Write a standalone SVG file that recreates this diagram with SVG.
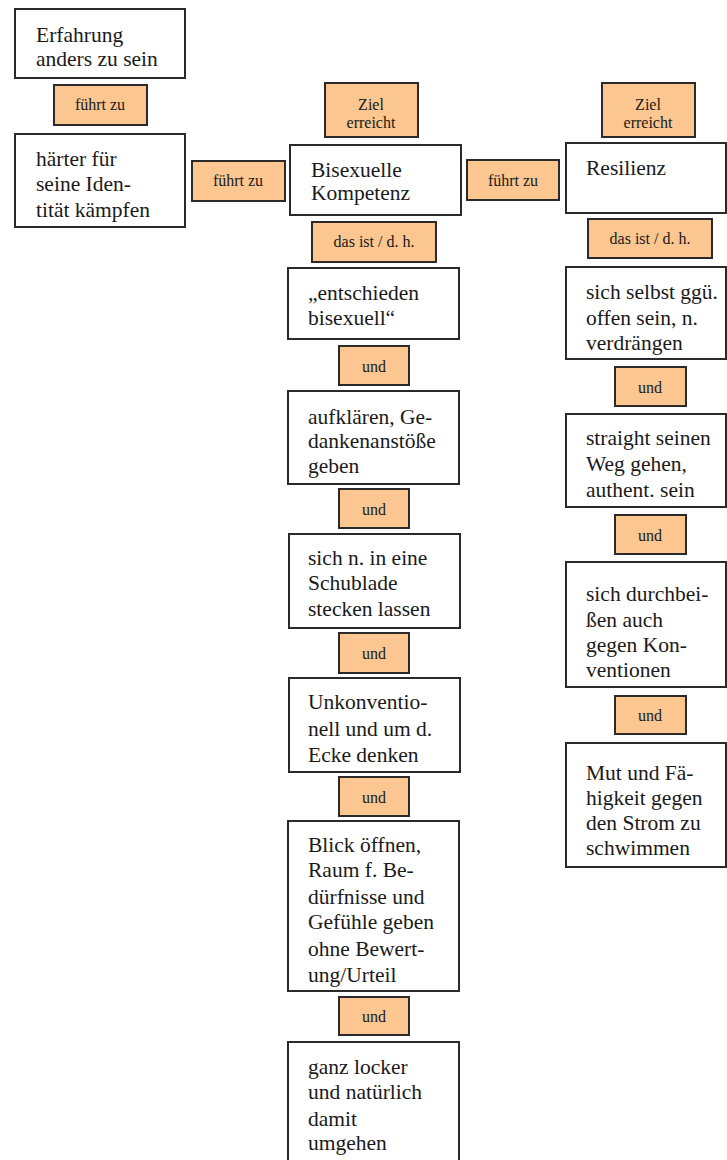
<svg xmlns="http://www.w3.org/2000/svg" width="727" height="1160" viewBox="0 0 727 1160">
<style>
.b{fill:#fff;stroke:#2a2a2a;stroke-width:2}
.l{fill:#fbc68f;stroke:#2a2a2a;stroke-width:2}
.t{font-family:"Liberation Serif",serif;font-size:21.5px;fill:#1a1a1a}
.s{font-family:"Liberation Serif",serif;font-size:16px;fill:#1a1a1a;text-anchor:middle}
</style>
<rect width="727" height="1160" fill="#fff"/>
<g id="connectors"></g>
<g id="n1"><rect class="b" x="15" y="9" width="170" height="69"/><text class="t" x="36"><tspan x="36" y="42">Erfahrung</tspan><tspan x="36" y="66">anders zu sein</tspan></text></g>
<g id="l1"><rect class="l" x="54" y="85" width="93" height="40"/><text class="s" x="100" y="110">führt zu</text></g>
<g id="n2"><rect class="b" x="15" y="134" width="170" height="93"/><text class="t"><tspan x="36" y="166">härter für</tspan><tspan x="36" y="191">seine Iden-</tspan><tspan x="36" y="217">tität kämpfen</tspan></text></g>
<g id="l2"><rect class="l" x="192" y="161" width="93" height="40"/><text class="s" x="238" y="186">führt zu</text></g>
<g id="l3"><rect class="l" x="325" y="83" width="93" height="54"/><text class="s"><tspan x="371" y="110">Ziel</tspan><tspan x="371" y="128">erreicht</tspan></text></g>
<g id="n3"><rect class="b" x="290" y="145" width="171" height="70"/><text class="t"><tspan x="311" y="177">Bisexuelle</tspan><tspan x="311" y="200">Kompetenz</tspan></text></g>
<g id="l4"><rect class="l" x="467" y="160" width="92" height="40"/><text class="s" x="513" y="186">führt zu</text></g>
<g id="l5"><rect class="l" x="602" y="83" width="93" height="54"/><text class="s"><tspan x="648" y="110">Ziel</tspan><tspan x="648" y="128">erreicht</tspan></text></g>
<g id="n4"><rect class="b" x="566" y="143" width="160" height="70"/><text class="t" x="586" y="175">Resilienz</text></g>
<g id="l6"><rect class="l" x="312" y="222" width="124" height="40"/><text class="s" x="374" y="247">das ist / d. h.</text></g>
<g id="l7"><rect class="l" x="588" y="219" width="124" height="39"/><text class="s" x="650" y="244">das ist / d. h.</text></g>
<g id="n5"><rect class="b" x="288" y="268" width="171" height="71"/><text class="t"><tspan x="308" y="300">„entschieden</tspan><tspan x="308" y="325">bisexuell“</tspan></text></g>
<g id="l8"><rect class="l" x="339" y="346" width="70" height="39"/><text class="s" x="374" y="372">und</text></g>
<g id="n6"><rect class="b" x="288" y="391" width="171" height="93"/><text class="t"><tspan x="308" y="424">aufklären, Ge-</tspan><tspan x="308" y="448">dankenanstöße</tspan><tspan x="308" y="473">geben</tspan></text></g>
<g id="l9"><rect class="l" x="339" y="489" width="70" height="39"/><text class="s" x="374" y="515">und</text></g>
<g id="n7"><rect class="b" x="289" y="534" width="171" height="94"/><text class="t"><tspan x="308" y="565">sich n. in eine</tspan><tspan x="308" y="590">Schublade</tspan><tspan x="308" y="616">stecken lassen</tspan></text></g>
<g id="l10"><rect class="l" x="339" y="633" width="70" height="40"/><text class="s" x="374" y="659">und</text></g>
<g id="n8"><rect class="b" x="289" y="678" width="171" height="94"/><text class="t"><tspan x="308" y="709">Unkonventio-</tspan><tspan x="308" y="736">nell und um d.</tspan><tspan x="308" y="762">Ecke denken</tspan></text></g>
<g id="l11"><rect class="l" x="339" y="777" width="70" height="39"/><text class="s" x="374" y="803">und</text></g>
<g id="n9"><rect class="b" x="288" y="821" width="171" height="170"/><text class="t"><tspan x="308" y="852">Blick öffnen,</tspan><tspan x="308" y="877">Raum f. Be-</tspan><tspan x="308" y="904">dürfnisse und</tspan><tspan x="308" y="929">Gefühle geben</tspan><tspan x="308" y="956">ohne Bewert-</tspan><tspan x="308" y="982">ung/Urteil</tspan></text></g>
<g id="l12"><rect class="l" x="339" y="997" width="70" height="38"/><text class="s" x="374" y="1022">und</text></g>
<g id="n10"><rect class="b" x="288" y="1042" width="171" height="130"/><text class="t"><tspan x="308" y="1074">ganz locker</tspan><tspan x="308" y="1099">und natürlich</tspan><tspan x="308" y="1126">damit</tspan><tspan x="308" y="1150">umgehen</tspan></text></g>
<g id="n11"><rect class="b" x="566" y="267" width="160" height="92"/><text class="t"><tspan x="586" y="299">sich selbst ggü.</tspan><tspan x="586" y="325">offen sein, n.</tspan><tspan x="586" y="350">verdrängen</tspan></text></g>
<g id="l13"><rect class="l" x="615" y="367" width="71" height="39"/><text class="s" x="650" y="393">und</text></g>
<g id="n12"><rect class="b" x="566" y="414" width="160" height="93"/><text class="t"><tspan x="586" y="445">straight seinen</tspan><tspan x="586" y="471">Weg gehen,</tspan><tspan x="586" y="497">authent. sein</tspan></text></g>
<g id="l14"><rect class="l" x="615" y="515" width="71" height="39"/><text class="s" x="650" y="541">und</text></g>
<g id="n13"><rect class="b" x="566" y="562" width="160" height="125"/><text class="t"><tspan x="586" y="601">sich durchbei-</tspan><tspan x="586" y="627">ßen auch</tspan><tspan x="586" y="652">gegen Kon-</tspan><tspan x="586" y="677">ventionen</tspan></text></g>
<g id="l15"><rect class="l" x="615" y="696" width="71" height="38"/><text class="s" x="650" y="721">und</text></g>
<g id="n14"><rect class="b" x="566" y="743" width="160" height="124"/><text class="t"><tspan x="586" y="780">Mut und Fä-</tspan><tspan x="586" y="805">higkeit gegen</tspan><tspan x="586" y="830">den Strom zu</tspan><tspan x="586" y="855">schwimmen</tspan></text></g>
</svg>
